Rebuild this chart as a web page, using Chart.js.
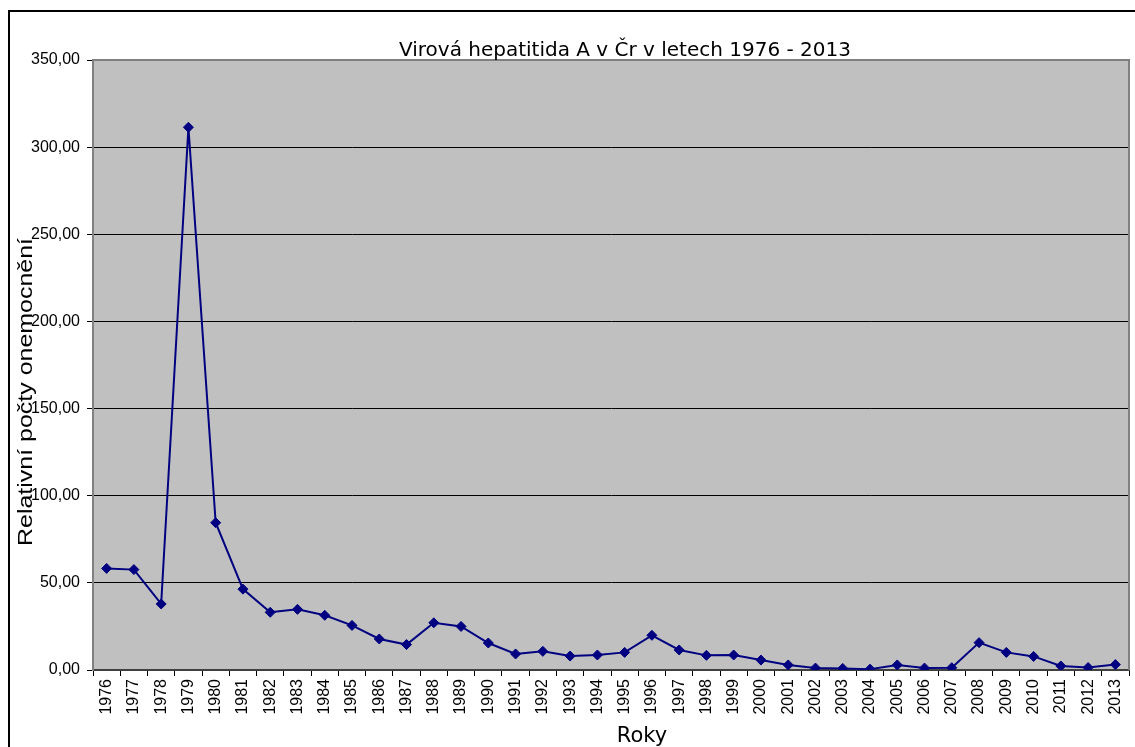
<!DOCTYPE html>
<html>
<head>
<meta charset="utf-8">
<script src="https://cdn.jsdelivr.net/npm/chart.js@4.4.1/dist/chart.umd.min.js"></script>
<style>
html,body{margin:0;padding:0;background:#fff;}
#wrap{width:1135px;height:747px;position:relative;}
</style>
</head>
<body>
<div id="wrap"><canvas id="c" width="1135" height="747"></canvas></div>
<script>
const years = ["1976","1977","1978","1979","1980","1981","1982","1983","1984","1985","1986","1987","1988","1989","1990","1991","1992","1993","1994","1995","1996","1997","1998","1999","2000","2001","2002","2003","2004","2005","2006","2007","2008","2009","2010","2011","2012","2013"];
const values = [58.3,57.6,37.9,311.4,84.5,46.4,33.1,34.8,31.4,25.6,17.8,14.6,27.1,25.0,15.5,9.2,10.7,8.0,8.6,10.1,19.9,11.5,8.4,8.6,5.7,2.9,1.1,0.9,0.5,2.9,1.1,1.3,15.7,10.1,7.8,2.3,1.4,3.1];
const chartTitle = "Virová hepatitida A v Čr v letech 1976 - 2013";
const xTitle = "Roky";
const yTitle = "Relativní počty onemocnění";
const yMin = 0, yMax = 350, yStep = 50;

const decor = {
  id: 'decor',
  beforeDraw(chart) {
    const ctx = chart.ctx, a = chart.chartArea;
    ctx.save();
    ctx.fillStyle = '#fff';
    ctx.fillRect(0, 0, chart.width, chart.height);
    ctx.strokeStyle = '#000';
    ctx.lineWidth = 2;
    ctx.beginPath();
    ctx.moveTo(9, chart.height + 2);
    ctx.lineTo(9, 11);
    ctx.lineTo(chart.width + 2, 11);
    ctx.stroke();
    ctx.fillStyle = '#c0c0c0';
    ctx.fillRect(a.left, a.top, a.right - a.left, a.bottom - a.top);
    ctx.restore();
  },
  beforeDatasetsDraw(chart) {
    const ctx = chart.ctx, a = chart.chartArea;
    ctx.save();
    ctx.strokeStyle = '#808080';
    ctx.lineWidth = 2;
    ctx.beginPath();
    ctx.moveTo(a.left, a.top);
    ctx.lineTo(a.right, a.top);
    ctx.lineTo(a.right, a.bottom);
    ctx.stroke();
    ctx.restore();
  },
  afterDatasetsDraw(chart) {
    const ctx = chart.ctx;
    ctx.save();
    ctx.fillStyle = '#000';
    ctx.textAlign = 'center';
    ctx.textBaseline = 'alphabetic';
    ctx.font = '20px "DejaVu Sans", Verdana, sans-serif';
    ctx.fillText(chartTitle, 625, 56);
    ctx.font = '21px "DejaVu Sans", Verdana, sans-serif';
    ctx.fillText(xTitle, 642, 742);
    ctx.translate(32, 392);
    ctx.rotate(-Math.PI / 2);
    ctx.font = '20px "Liberation Sans", Arial, sans-serif';
    const w = ctx.measureText(yTitle).width;
    ctx.scale(308 / w, 1);
    ctx.fillText(yTitle, 0, 0);
    ctx.restore();
  }
};

new Chart(document.getElementById('c'), {
  type: 'line',
  data: {
    labels: years,
    datasets: [{
      data: values,
      borderColor: '#000080',
      backgroundColor: '#000080',
      borderWidth: 2,
      pointStyle: 'rectRot',
      pointRadius: 5,
      pointHoverRadius: 5,
      pointBorderWidth: 1,
      tension: 0,
      fill: false
    }]
  },
  options: {
    responsive: false,
    animation: false,
    events: [],
    layout: { padding: { top: 60, right: 6, left: 0, bottom: 0 } },
    plugins: { legend: { display: false }, title: { display: false }, tooltip: { enabled: false } },
    scales: {
      x: {
        offset: true,
        afterFit(s) { s.height = 77; s.paddingLeft = 0; s.paddingRight = 0; },
        grid: { offset: true, drawOnChartArea: false, drawTicks: true, tickLength: 6, color: '#000', tickColor: '#000' },
        border: { color: '#404040', width: 2 },
        ticks: {
          minRotation: 90, maxRotation: 90, autoSkip: false, padding: 3,
          color: '#000', font: { family: '"Liberation Sans", Arial, sans-serif', size: 16 }
        }
      },
      y: {
        min: yMin, max: yMax,
        afterFit(s) { s.width = 93; s.paddingTop = 0; s.paddingBottom = 0; },
        grid: { color: '#000', lineWidth: 1, tickLength: 6, tickColor: '#000' },
        border: { color: '#808080', width: 2 },
        ticks: {
          stepSize: yStep, padding: 7, color: '#000',
          font: { family: '"Liberation Sans", Arial, sans-serif', size: 16 },
          callback: v => v.toFixed(2).replace('.', ',')
        }
      }
    }
  },
  plugins: [decor]
});
</script>
</body>
</html>
